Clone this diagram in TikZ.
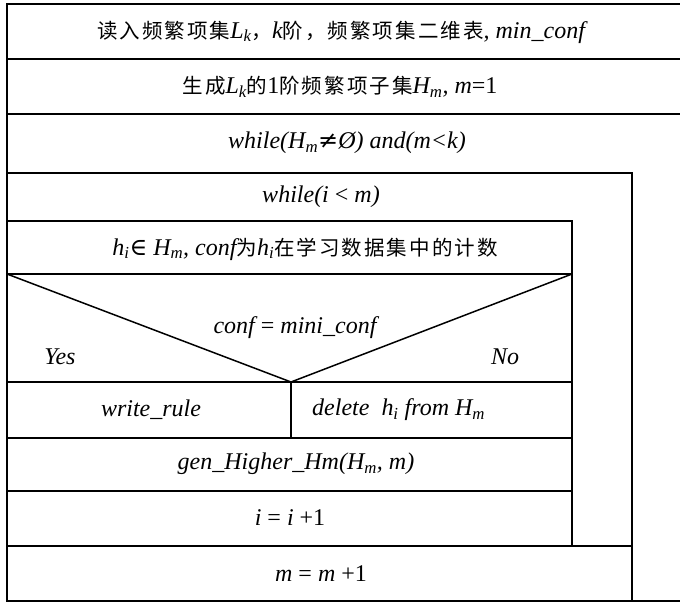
\documentclass[tikz,border=0pt]{standalone}
\usepackage{fontspec}
\setmainfont{Liberation Serif}
\newfontfamily\cjk[LetterSpace=10]{Noto Sans CJK SC}
\newfontfamily\symf{DejaVu Serif}
\newcommand\sbx[1]{\textsubscript{#1}}
\newcommand\zh[1]{{\upshape\fontsize{20.5}{23}\cjk #1}}
\begin{document}
\begin{tikzpicture}[x=1pt,y=-1pt,
  frame/.style={line width=2pt},
  rule/.style={line width=1.5pt},
  lbl/.style={inner sep=0pt, font=\fontsize{24}{27}\selectfont\itshape}]
\useasboundingbox (0,0) rectangle (680,603);
\clip (0,0) rectangle (680,603);

% outer frame (right side runs past the page edge)
\draw[frame] (690,4) -- (7,4) -- (7,601) -- (690,601);
\draw[rule] (7,59) -- (690,59);
\draw[rule] (7,114) -- (690,114);

% outer while loop: body and its right bar
\draw[rule] (7,173) -- (632,173) -- (632,601);
\draw[rule] (7,546) -- (632,546);

% inner while loop: body and its right bar
\draw[rule] (7,221) -- (572,221) -- (572,546);
\draw[rule] (7,274) -- (572,274);
\draw[rule] (7,382) -- (572,382);
\draw[rule] (7,438) -- (572,438);
\draw[rule] (7,491) -- (572,491);

% decision block
\draw[rule] (7,274) -- (291,382) -- (572,274);
\draw[rule] (291,382) -- (291,438);

% texts
\node[lbl] (read) at (341,32) {\zh{读入频繁项集}L\sbx{k}\zh{，}k\zh{阶，频繁项集二维表}, min\_conf};
\node[lbl] (gen1) at (340,87) {\zh{生成}L\sbx{k}\zh{的}{\upshape 1}\zh{阶频繁项子集}H\sbx{m}, m{\upshape =1}};
\node[lbl] (w1) at (347,143) {while(H\sbx{m}{\upshape\symf ≠}Ø) and(m<k)};
\node[lbl] (w2) at (321,197) {while(i {\upshape <} m)};
\node[lbl] (hi) at (305,249) {h\sbx{i}{\upshape\symf ∈} H\sbx{m}, conf\zh{为}h\sbx{i}\zh{在学习数据集中的计数}};
\node[lbl] (cond) at (295,328) {conf {\upshape =} mini\_conf};
\node[lbl] (yes) at (60,357) {Yes};
\node[lbl] (no) at (505,357) {No};
\node[lbl] (wr) at (151,410) {write\_rule};
\node[lbl,anchor=west] (del) at (312,410) {delete\ \ h\sbx{i} from H\sbx{m}};
\node[lbl] (hm) at (296,464) {gen\_Higher\_Hm(H\sbx{m}, m)};
\node[lbl] (inc) at (290,518) {i {\upshape =} i {\upshape +1}};
\node[lbl] (minc) at (321,574) {m {\upshape =} m {\upshape +1}};
\end{tikzpicture}
\end{document}
